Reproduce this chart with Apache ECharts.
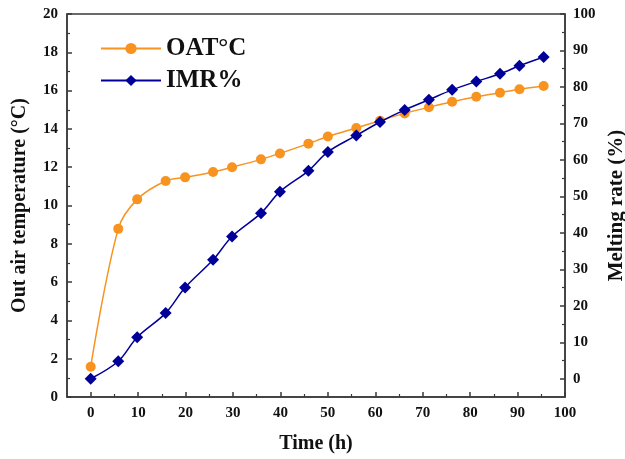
<!DOCTYPE html>
<html><head><meta charset="utf-8">
<script src="https://cdn.jsdelivr.net/npm/echarts@6/dist/echarts.min.js"></script>
<style>html,body{margin:0;padding:0;background:#fff}#c{width:625px;height:459px}</style>
</head><body><div id="c"></div>
<script>
const timeH = [0, 5.8, 9.8, 15.8, 19.9, 25.8, 29.8, 35.9, 39.9, 45.9, 50, 56, 61, 66.2, 71.3, 76.2, 81.3, 86.3, 90.4, 95.5];
const oat = [1.58, 8.78, 10.32, 11.28, 11.47, 11.75, 12.0, 12.41, 12.72, 13.23, 13.6, 14.05, 14.43, 14.81, 15.13, 15.42, 15.68, 15.89, 16.07, 16.24];
const imr = [0, 4.8, 11.4, 18.0, 25.0, 32.6, 39.0, 45.4, 51.3, 57.0, 62.2, 66.7, 70.4, 73.7, 76.5, 79.2, 81.5, 83.6, 85.8, 88.2];
const xTicks = [0, 10, 20, 30, 40, 50, 60, 70, 80, 90, 100];
const xMinor = [5, 15, 25, 35, 45, 55, 65, 75, 85, 95];
const rTicks = [0, 10, 20, 30, 40, 50, 60, 70, 80, 90, 100];
const rMinor = [5, 15, 25, 35, 45, 55, 65, 75, 85, 95];
const seriesNames = ['OAT°C', 'IMR%'];

const FONT = '"Liberation Serif", "Times New Roman", serif';
const AX = '#3a3a3a';
const ORANGE = '#F7931E';
const BLUE = '#000099';
const lbl = {fontFamily: FONT, fontWeight: 'bold', fontSize: 15, color: '#111'};
const nameStyle = {fontFamily: FONT, fontWeight: 'bold', fontSize: 20, color: '#111'};

const chart = echarts.init(document.getElementById('c'), null, {renderer: 'canvas'});
chart.setOption({
  animation: false,
  backgroundColor: '#fff',
  grid: {left: 67, right: 60, top: 14, bottom: 62, outerBoundsMode: 'none', containLabel: false,
         show: true, borderColor: AX, borderWidth: 1.5, backgroundColor: 'transparent'},
  legend: {
    orient: 'vertical', left: 100, top: 36, padding: 0, itemWidth: 60, itemHeight: 14, itemGap: 7,
    textStyle: {fontFamily: FONT, fontWeight: 'bold', fontSize: 25, color: '#111'},
    data: seriesNames
  },
  xAxis: [{
    type: 'value', min: -5, max: 100, position: 'bottom',
    name: 'Time (h)', nameLocation: 'middle', nameGap: 37, nameTextStyle: nameStyle,
    axisLine: {show: true, onZero: false, lineStyle: {color: AX, width: 1.5}},
    axisTick: {show: true, inside: true, length: 5, customValues: xTicks, lineStyle: {color: AX, width: 1.5}},
    axisLabel: {customValues: xTicks, margin: 9, ...lbl},
    splitLine: {show: false}
  }, {
    type: 'value', min: -5, max: 100, position: 'bottom',
    axisLine: {show: false, onZero: false},
    axisTick: {show: true, inside: true, length: 3, customValues: xMinor, lineStyle: {color: AX, width: 1.2}},
    axisLabel: {show: false, customValues: xMinor},
    splitLine: {show: false}
  }],
  yAxis: [{
    type: 'value', min: 0, max: 20, interval: 2, position: 'left',
    name: 'Out air temperature (°C)', nameLocation: 'middle', nameGap: 37, nameRotate: 90, nameTextStyle: nameStyle,
    axisLine: {show: true, onZero: false, lineStyle: {color: AX, width: 1.5}},
    axisTick: {show: true, inside: true, length: 5, lineStyle: {color: AX, width: 1.5}},
    minorTick: {show: true, splitNumber: 2, length: 3, lineStyle: {color: AX, width: 1.2}},
    axisLabel: {margin: 9, ...lbl},
    splitLine: {show: false}, minorSplitLine: {show: false}
  }, {
    type: 'value', min: -5, max: 100, position: 'right',
    name: 'Melting rate (%)', nameLocation: 'middle', nameGap: 37, nameRotate: 90,
    nameTextStyle: {...nameStyle, fontSize: 21},
    axisLine: {show: true, onZero: false, lineStyle: {color: AX, width: 1.5}},
    axisTick: {show: true, inside: true, length: 5, customValues: rTicks, lineStyle: {color: AX, width: 1.5}},
    axisLabel: {customValues: rTicks, margin: 8, ...lbl},
    splitLine: {show: false}
  }, {
    type: 'value', min: -5, max: 100, position: 'right',
    axisLine: {show: false, onZero: false},
    axisTick: {show: true, inside: true, length: 3, customValues: rMinor, lineStyle: {color: AX, width: 1.2}},
    axisLabel: {show: false, customValues: rMinor},
    splitLine: {show: false}
  }],
  series: [{
    name: seriesNames[0], type: 'line', xAxisIndex: 0, yAxisIndex: 0,
    data: timeH.map((t, i) => [t, oat[i]]),
    smooth: 0.35, symbol: 'circle', symbolSize: 10,
    lineStyle: {color: ORANGE, width: 1.5}, itemStyle: {color: ORANGE}, z: 3
  }, {
    name: seriesNames[1], type: 'line', xAxisIndex: 0, yAxisIndex: 1,
    data: timeH.map((t, i) => [t, imr[i]]),
    smooth: 0.35, symbol: 'diamond', symbolSize: 12,
    lineStyle: {color: BLUE, width: 1.5}, itemStyle: {color: BLUE}, z: 4
  }]
});
</script></body></html>
